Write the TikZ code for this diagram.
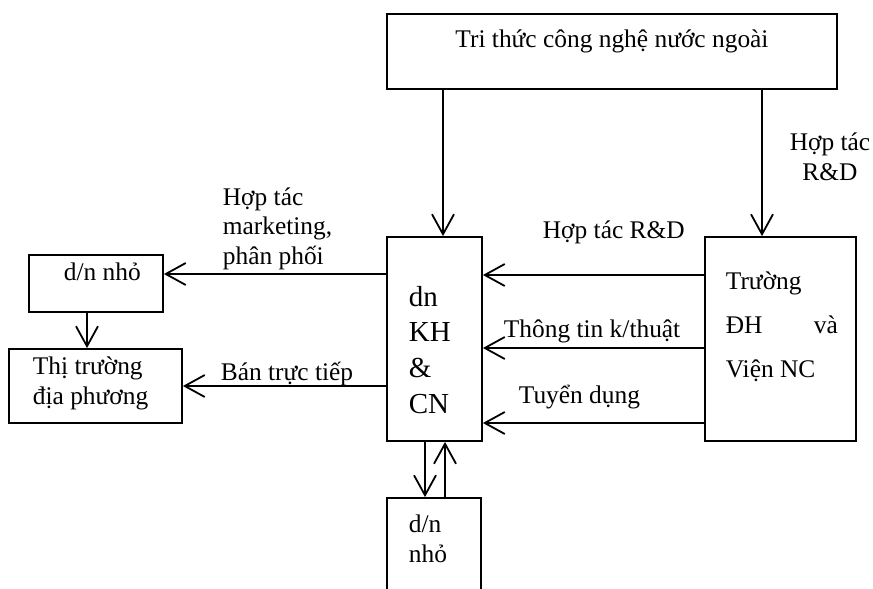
\documentclass[tikz,border=0pt]{standalone}
\usepackage{fontspec}
\setmainfont{Liberation Serif}
\usetikzlibrary{arrows.meta,calc}
\tikzset{
  box/.style 2 args={draw,rectangle,inner sep=0pt,minimum width=#1,minimum height=#2},
  txt/.style={inner sep=0pt,align=left,font=\fontsize{12.7}{14.7}\selectfont},
}

\begin{document}
\begin{tikzpicture}[x=0.5pt,y=-0.5pt,line width=0.9pt,>={Straight Barb[length=10pt,width=11pt]}]

\useasboundingbox (0,0) rectangle (873,589);
\clip (0,0) rectangle (873,589);

% boxes
\node[box={225pt}{37.5pt}] (foreign) at (612,51.5) {};
\node[box={47.5pt}{102pt}] (main) at (434.5,339) {};
\node[box={75.5pt}{102pt}] (uni) at (780.5,339) {};
\node[box={67pt}{28.5pt}] (smallL) at (96,283.5) {};
\node[box={86.5pt}{37pt}] (market) at (95.5,386) {};
\node[box={47pt}{71pt}] (smallB) at (434,569) {};

% box texts (base = last line)
\node[txt,anchor=base] (foreigntxt) at (612,47) {Tri thức công nghệ nước ngoài};
\node[txt,anchor=base west,font=\fontsize{14.5}{17.8}\selectfont] (maintxt) at (408,413) {dn\\KH\\\&\\CN};
\node[txt,anchor=base west,font=\fontsize{12.7}{22}\selectfont] (unitxt) at (725,377)
  {Trường\\\makebox[56pt]{ĐH\hfill và}\\Viện NC};
\node[txt,anchor=base west] (smallLtxt) at (63,280) {d/n nhỏ};
\node[txt,anchor=base west] (markettxt) at (32,404) {Thị trường\\địa phương};
\node[txt,anchor=base west] (smallBtxt) at (408,562) {d/n\\nhỏ};

% connector labels
\node[txt,anchor=base,align=center] (rdtoplbl) at (830,180) {Hợp tác\\R\&D};
\node[txt,anchor=base west] (rdlbl) at (542,238) {Hợp tác R\&D};
\node[txt,anchor=base west] (infolbl) at (503,337) {Thông tin k/thuật};
\node[txt,anchor=base west] (hirelbl) at (518,403) {Tuyển dụng};
\node[txt,anchor=base west] (mktlbl) at (222,264) {Hợp tác\\marketing,\\phân phối};
\node[txt,anchor=base west] (selllbl) at (220,380) {Bán trực tiếp};

% connectors
\draw[->] ([xshift=-84.5pt]foreign.south) -- ([xshift=4.25pt]main.north);
\draw[->] ([xshift=75pt]foreign.south) -- ([xshift=-9.25pt]uni.north);
\draw[->] ([yshift=32pt]uni.west) -- ([yshift=32pt]main.east);
\draw[->] ([yshift=-4.5pt]uni.west) -- ([yshift=-4.5pt]main.east);
\draw[->] ([yshift=-42pt]uni.west) -- ([yshift=-42pt]main.east);
\draw[->] ([yshift=32.5pt]main.west) -- ([yshift=32.5pt]main.west -| smallL.east);
\draw[->] ([yshift=-23.5pt]main.west) -- ([yshift=-23.5pt]main.west -| market.east);
\draw[->] ([xshift=-4.5pt]smallL.south) -- ([xshift=-4.5pt]smallL.south |- market.north);
\draw[->] ([xshift=-4.75pt]main.south) -- ([xshift=-4.75pt]main.south |- smallB.north);
\draw[->] ([xshift=5.5pt]smallB.north) -- ([xshift=5.5pt]smallB.north |- main.south);

\end{tikzpicture}
\end{document}
